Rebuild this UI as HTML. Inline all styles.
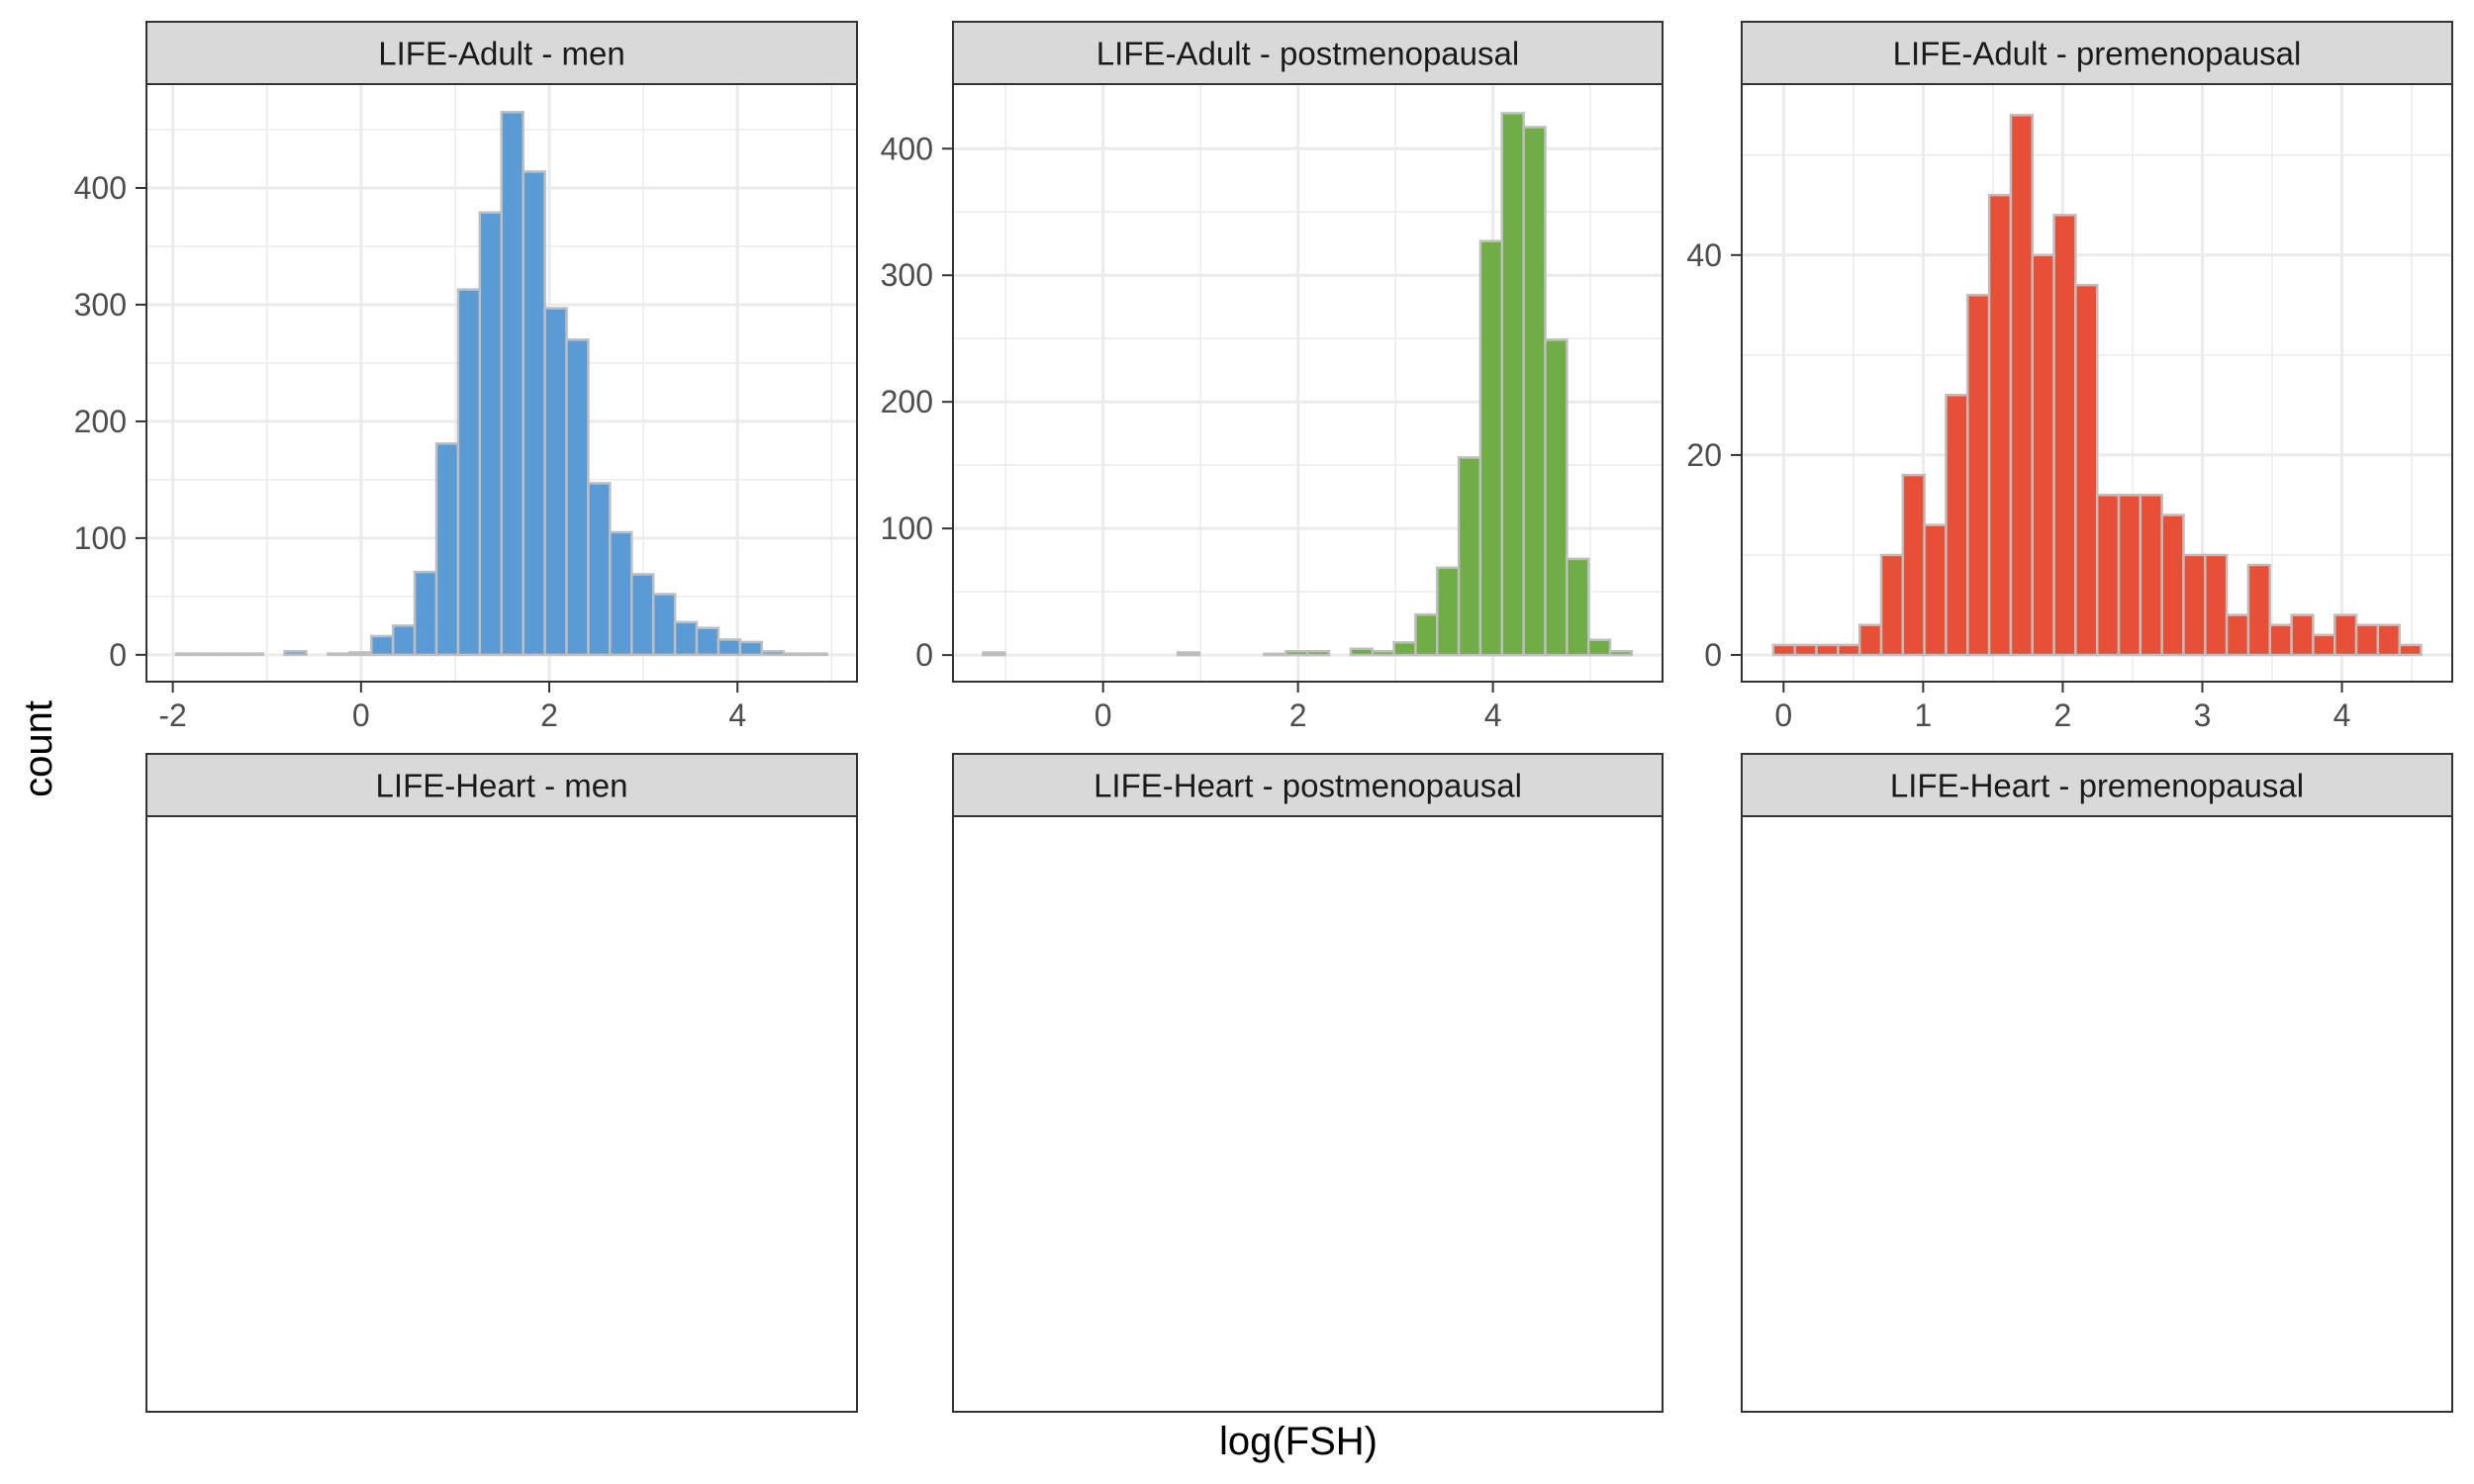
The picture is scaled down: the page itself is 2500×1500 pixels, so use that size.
<!DOCTYPE html>
<html><head><meta charset="utf-8"><style>
html,body{margin:0;padding:0;background:#fff;}
svg{display:block;font-family:"Liberation Sans",Arial,sans-serif;}
</style></head><body>
<svg id="chart" width="2500" height="1500" viewBox="0 0 2500 1500" xmlns="http://www.w3.org/2000/svg">
<text x="1312" y="1470" font-size="40" text-anchor="middle" fill="#000">log(FSH)</text>
<text x="0" y="0" transform="translate(52,757) rotate(-90)" font-size="40" text-anchor="middle" fill="#000">count</text>
</svg>
<script>
// Panel titles
const panelTitles = ["LIFE-Adult - men","LIFE-Adult - postmenopausal","LIFE-Adult - premenopausal","LIFE-Heart - men","LIFE-Heart - postmenopausal","LIFE-Heart - premenopausal"];
// Histogram bin starts and widths (30 bins each)
const menBinStart = -1.965, menBinWidth = 0.2305;
const postBinStart = -1.23, postBinWidth = 0.2218;
const preBinStart = -0.074, preBinWidth = 0.1547;
// Counts
const menCounts = [1,1,1,1,0,3,0,1,2,16,25,71,181,313,379,465,414,297,270,147,105,69,52,28,23,13,11,3,1,1];
const postCounts = [2,0,0,0,0,0,0,0,0,2,0,0,0,1,3,3,0,5,3,10,32,69,156,327,428,417,249,76,12,3];
const preCounts = [1,1,1,1,3,10,18,13,26,36,46,54,40,44,37,16,16,16,14,10,10,4,9,3,4,2,4,3,3,1];
// Tick labels
const menXTicks = [-2,0,2,4];
const menYTicks = [0,100,200,300,400];
const postXTicks = [0,2,4];
const postYTicks = [0,100,200,300,400];
const preXTicks = [0,1,2,3,4];
const preYTicks = [0,20,40];

const NS = "http://www.w3.org/2000/svg";
const svg = document.getElementById('chart');
function mk(tag, attrs, parent){
  const e = document.createElementNS(NS, tag);
  for (const k in attrs) e.setAttribute(k, attrs[k]);
  (parent||svg).appendChild(e);
  return e;
}
const cols = [[148,866],[963,1680],[1760,2478]];
const rows = [{st:22, top:85, bot:689},{st:762, top:825, bot:1427}];

const panels = [
  {counts:menCounts, b0:menBinStart, bw:menBinWidth, xt:menXTicks, yt:menYTicks, xr:[-2.28,5.27], yr:[-23,489], fill:"#5B9BD5", xminor:[-1,1,3,5], yminor:[50,150,250,350,450]},
  {counts:postCounts, b0:postBinStart, bw:postBinWidth, xt:postXTicks, yt:postYTicks, xr:[-1.54,5.74], yr:[-21,451], fill:"#70AD47", xminor:[-1,1,3,5], yminor:[50,150,250,350]},
  {counts:preCounts, b0:preBinStart, bw:preBinWidth, xt:preXTicks, yt:preYTicks, xr:[-0.30,4.79], yr:[-2.67,57.1], fill:"#E84F37", xminor:[0.5,1.5,2.5,3.5,4.5], yminor:[10,30,50]}
];

for (let r=0;r<2;r++){
  for (let c=0;c<3;c++){
    const [x0,x1] = cols[c];
    const R = rows[r];
    const g = mk('g',{});
    
    
    mk('rect',{x:x0,y:R.top,width:x1-x0,height:R.bot-R.top,fill:"#fff"},g);
    if (r===0){
      const P = panels[c];
      const sx = v => x0 + (v-P.xr[0])/(P.xr[1]-P.xr[0])*(x1-x0);
      const sy = v => R.bot - (v-P.yr[0])/(P.yr[1]-P.yr[0])*(R.bot-R.top);
      P.xminor.forEach(v=>{ if(sx(v)>x0&&sx(v)<x1) mk('line',{x1:sx(v),x2:sx(v),y1:R.top,y2:R.bot,stroke:"#EBEBEB","stroke-width":1.5},g); });
      P.yminor.forEach(v=>{ if(sy(v)>R.top) mk('line',{x1:x0,x2:x1,y1:sy(v),y2:sy(v),stroke:"#EBEBEB","stroke-width":1.5},g); });
      P.xt.forEach(v=>mk('line',{x1:sx(v),x2:sx(v),y1:R.top,y2:R.bot,stroke:"#EBEBEB","stroke-width":3},g));
      P.yt.forEach(v=>mk('line',{x1:x0,x2:x1,y1:sy(v),y2:sy(v),stroke:"#EBEBEB","stroke-width":3},g));
      P.counts.forEach((n,i)=>{
        const bx0 = sx(P.b0 + i*P.bw), bx1 = sx(P.b0 + (i+1)*P.bw);
        const b = mk('rect',{x:bx0,y:sy(n),width:bx1-bx0,height:sy(0)-sy(n),fill:P.fill,stroke:"#BEBEBE","stroke-width":2.5},g);
        
        
      });
      P.yt.forEach(v=>{
        mk('line',{x1:x0-11,x2:x0,y1:sy(v),y2:sy(v),stroke:"#333","stroke-width":2},g);
        const t = mk('text',{x:x0-20,y:sy(v)+11,"font-size":32,"text-anchor":"end",fill:"#4D4D4D"},g);
        t.textContent = v;
        
        
      });
      P.xt.forEach(v=>{
        mk('line',{x1:sx(v),x2:sx(v),y1:R.bot,y2:R.bot+11,stroke:"#333","stroke-width":2},g);
        const t = mk('text',{x:sx(v),y:R.bot+45,"font-size":32,"text-anchor":"middle",fill:"#4D4D4D"},g);
        t.textContent = v;
        
        
      });
    }
    mk('rect',{x:x0,y:R.top,width:x1-x0,height:R.bot-R.top,fill:"none",stroke:"#333","stroke-width":2},g);
    const s = mk('rect',{x:x0,y:R.st,width:x1-x0,height:R.top-R.st,fill:"#D9D9D9",stroke:"#333","stroke-width":2},g);
    
    
    const st = mk('text',{x:(x0+x1)/2,y:(R.st+R.top)/2+12,"font-size":33,"text-anchor":"middle",fill:"#1A1A1A"},g);
    st.textContent = panelTitles[r*3+c];
    
    
  }
}
</script>
</body></html>
